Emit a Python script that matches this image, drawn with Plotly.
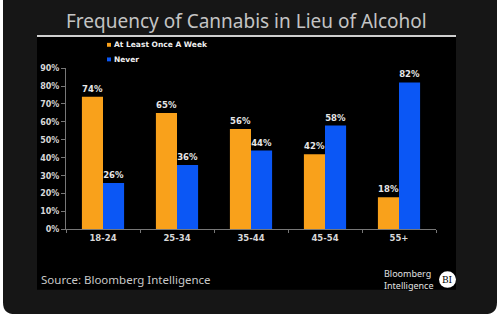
import plotly.graph_objects as go

categories = ["18-24", "25-34", "35-44", "45-54", "55+"]
weekly = [74, 65, 56, 42, 18]
never = [26, 36, 44, 58, 82]
series_names = ["At Least Once A Week", "Never"]
title = "Frequency of Cannabis in Lieu of Alcohol"
source = "Source: Bloomberg Intelligence"

ORANGE = "#F9A11B"
BLUE = "#0B57F5"
W, H = 500, 321

def px(x):
    return x / W

def py(y):
    return 1 - y / H

fig = go.Figure()
for name, vals, col in [(series_names[0], weekly, ORANGE), (series_names[1], never, BLUE)]:
    fig.add_trace(go.Bar(
        x=categories, y=vals, name=name, marker=dict(color=col, line=dict(width=0)),
        texttemplate="%{y}", textposition="outside", cliponaxis=False,
        textfont=dict(family="DejaVu Sans", size=8.5, color="#e6e6e6", weight="bold"),
        showlegend=False,
    ))

# rounded dark card
r = 12
x0, x1, y0, y1 = 3, 497, -20, 319
path = (f"M {px(x0+r)} {py(y0)} L {px(x1-r)} {py(y0)} Q {px(x1)} {py(y0)} {px(x1)} {py(y0+r)} "
        f"L {px(x1)} {py(y1-r)} Q {px(x1)} {py(y1)} {px(x1-r)} {py(y1)} "
        f"L {px(x0+r)} {py(y1)} Q {px(x0)} {py(y1)} {px(x0)} {py(y1-r)} "
        f"L {px(x0)} {py(y0+r)} Q {px(x0)} {py(y0)} {px(x0+r)} {py(y0)} Z")
shapes = [
    dict(type="path", path=path, xref="paper", yref="paper", fillcolor="#161616",
         line=dict(width=0), layer="below"),
    dict(type="rect", xref="paper", yref="paper", x0=px(37), x1=px(456), y0=py(294), y1=py(34),
         fillcolor="#000000", line=dict(width=0), layer="below"),
    dict(type="line", xref="paper", yref="paper", x0=px(37), x1=px(456), y0=py(33), y1=py(33),
         line=dict(color="#cfcfcf", width=2)),
    dict(type="rect", xref="paper", yref="paper", x0=px(107), x1=px(111), y0=py(44), y1=py(40),
         fillcolor=ORANGE, line=dict(width=0)),
    dict(type="rect", xref="paper", yref="paper", x0=px(107), x1=px(111), y0=py(59), y1=py(55),
         fillcolor=BLUE, line=dict(width=0)),
    dict(type="circle", xref="paper", yref="paper", x0=px(439), x1=px(456), y0=py(292), y1=py(275),
         fillcolor="#ffffff", line=dict(color="#ffffff", width=0)),
]

annotations = [
    dict(text=title, x=px(246), y=py(18), xref="paper", yref="paper", showarrow=False,
         xanchor="center", yanchor="middle",
         font=dict(family="Noto Sans", size=19, color="#c4c4c4")),
    dict(text=series_names[0], x=px(112), y=py(42),
         xref="paper", yref="paper", showarrow=False, xanchor="left", yanchor="middle",
         font=dict(family="DejaVu Sans", size=7.5, color="#f0f0f0", weight="bold")),
    dict(text=series_names[1], x=px(112), y=py(57),
         xref="paper", yref="paper", showarrow=False, xanchor="left", yanchor="middle",
         font=dict(family="DejaVu Sans", size=7.5, color="#f0f0f0", weight="bold")),
    dict(text=source, x=px(39), y=py(283), xref="paper", yref="paper", showarrow=False,
         xanchor="left", yanchor="middle",
         font=dict(family="Noto Sans", size=11.5, color="#c8c8c8")),
    dict(text="Bloomberg<br>Intelligence", x=px(435), y=py(283), xref="paper", yref="paper",
         showarrow=False, xanchor="right", yanchor="middle", align="left",
         font=dict(family="Noto Sans", size=9, color="#e0e0e0")),
    dict(text="BI", x=px(447.5), y=py(283.5), xref="paper", yref="paper", showarrow=False,
         xanchor="center", yanchor="middle",
         font=dict(family="DejaVu Serif", size=9, color="#000000")),
]

fig.update_layout(
    width=W, height=H, margin=dict(l=0, r=0, t=0, b=0),
    paper_bgcolor="#ffffff", plot_bgcolor="rgba(0,0,0,0)",
    barmode="group", bargap=0.43, bargroupgap=0,
    shapes=shapes, annotations=annotations, showlegend=False,
    xaxis=dict(domain=[px(66), px(436)], showgrid=False, showline=True, linecolor="#777777",
               linewidth=1, ticks="outside", tickson="boundaries", ticklen=3, tickcolor="#777777",
               tickfont=dict(family="DejaVu Sans", size=8.5, color="#d8d8d8", weight="bold"),
               zeroline=False, fixedrange=True),
    yaxis=dict(domain=[py(232), py(66)], range=[0, 90], dtick=10, ticksuffix="%",
               showgrid=False, showline=True, linecolor="#777777", linewidth=1,
               ticks="outside", ticklen=4, tickcolor="#777777", zeroline=False,
               tickfont=dict(family="DejaVu Sans", size=8, color="#d8d8d8", weight="bold"),
               fixedrange=True),
)

fig.write_html("out.html")
